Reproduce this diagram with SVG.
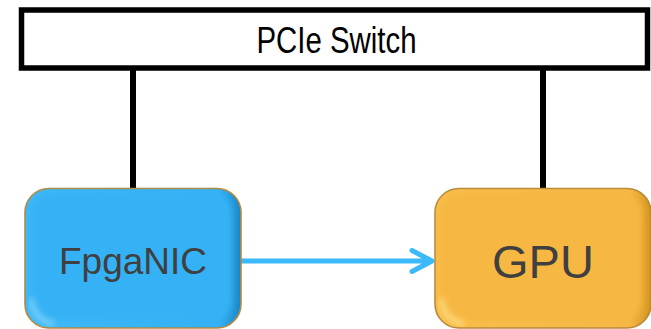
<svg xmlns="http://www.w3.org/2000/svg" width="651" height="329" viewBox="0 0 651 329">
  <style>
    .bus { fill: none; stroke: #000; stroke-width: 6; }
    .label { font-family: "Liberation Sans", Arial, sans-serif; fill: #404040; text-anchor: middle; }
    .rim { stroke: #b8893c; stroke-width: 1.6; }
    .link { fill: none; stroke: #3bb9f8; stroke-width: 5; stroke-linecap: round; stroke-linejoin: round; }
  </style>
  <defs>
    <filter id="soft" x="-10%" y="-10%" width="120%" height="120%">
      <feGaussianBlur stdDeviation="3"/>
    </filter>
    <linearGradient id="shadeBlue" x1="0" y1="0" x2="1" y2="0">
      <stop offset="0" stop-color="#3fb9f7"/>
      <stop offset="0.9" stop-color="#33b1f4"/>
      <stop offset="1" stop-color="#1b86c6"/>
    </linearGradient>
    <linearGradient id="shadeGold" x1="0" y1="0" x2="1" y2="0">
      <stop offset="0" stop-color="#f8bd4a"/>
      <stop offset="0.9" stop-color="#f6b843"/>
      <stop offset="1" stop-color="#d3951f"/>
    </linearGradient>
  </defs>

  <!-- switch and its two downstream links -->
  <g id="pcie-switch">
    <rect x="21.5" y="10" width="626" height="58" fill="#fff" stroke="#000" stroke-width="5.5"/>
    <text x="336.5" y="53" font-family="Liberation Sans, Arial, sans-serif" font-size="36" fill="#000" text-anchor="middle" textLength="160" lengthAdjust="spacingAndGlyphs">PCIe Switch</text>
  </g>

  <g id="connectors">
    <line class="bus" x1="133" y1="68" x2="133" y2="189"/>
    <line class="bus" x1="543" y1="68" x2="543" y2="189"/>
    <path class="link" d="M242 261 H431 M412 250.5 L432 261 L412 271.5"/>
  </g>

  <!-- FPGA NIC -->
  <g id="fpganic">
    <rect class="rim" x="25" y="188.5" width="216" height="139.5" rx="24" fill="url(#shadeBlue)"/>
    <rect x="30" y="193" width="202" height="127" rx="20" fill="#34b2f5" filter="url(#soft)"/>
    <path d="M31 298 Q33 320 54 324" fill="none" stroke="#8ddaff" stroke-width="4" filter="url(#soft)"/>
    <text class="label" x="133" y="274" font-size="37">FpgaNIC</text>
  </g>

  <!-- GPU -->
  <g id="gpu">
    <rect class="rim" x="435" y="188.5" width="216" height="139.5" rx="24" fill="url(#shadeGold)"/>
    <rect x="440" y="193" width="202" height="127" rx="20" fill="#f6b843" filter="url(#soft)"/>
    <path d="M441 298 Q443 320 464 324" fill="none" stroke="#ffe590" stroke-width="4" filter="url(#soft)"/>
    <text class="label" x="543" y="278" font-size="47">GPU</text>
  </g>
</svg>
